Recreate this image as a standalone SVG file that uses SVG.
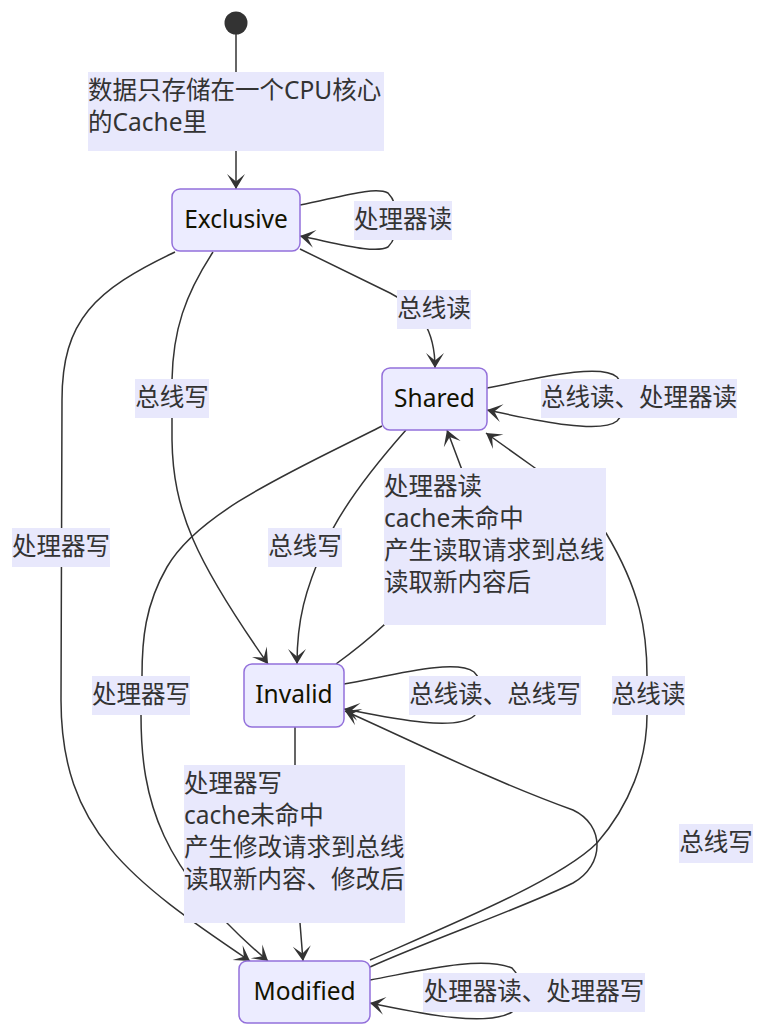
<svg xmlns="http://www.w3.org/2000/svg" width="765" height="1036" viewBox="0 0 765 1036">
<style>
  .node rect { fill: #ECECFF; stroke: #9370DB; stroke-width: 1.5; }
  .node text { font-family: "Noto Sans", "Noto Sans CJK SC", sans-serif; font-size: 24.5px; fill: #131300; text-anchor: middle; }
  .edge { fill: none; stroke: #333333; stroke-width: 1.5; }
  .lbl rect { fill: #E8E8FC; stroke: none; }
  .lbl text { font-family: "Noto Sans", "Noto Sans CJK SC", sans-serif; font-size: 24.5px; fill: #333333; }
  .c { text-anchor: middle; }
</style>
<defs>
  <marker id="barb" viewBox="0 0 20 14" refX="19" refY="7" markerWidth="30" markerHeight="21" markerUnits="userSpaceOnUse" orient="auto">
    <path d="M19,7 L9,13 L14,7 L9,1 Z" fill="#333333"/>
  </marker>
</defs>
<rect width="765" height="1036" fill="#ffffff"/>

<g id="connectors">
  <path class="edge" d="M236,34 V72"/>
  <path class="edge" d="M236,151 V189" marker-end="url(#barb)"/>
  <path class="edge" d="M300,205 C340,197 375,186 388,193 C400,205 400,235 388,247 C375,254 340,244 300,236" marker-end="url(#barb)"/>
  <path class="edge" d="M300,249 L390,293 C420,308 435,330 435,368" marker-end="url(#barb)"/>
  <path class="edge" d="M487,388 C530,380 600,362 617,377 C628,390 628,410 617,421 C600,435 530,419 487,410" marker-end="url(#barb)"/>
  <path class="edge" d="M213,252 C185,295 173,330 172,380 L172,440 C173,510 195,560 268,664" marker-end="url(#barb)"/>
  <path class="edge" d="M175,252 C95,290 62,320 62,400 L61,700 C61,830 130,880 250,961" marker-end="url(#barb)"/>
  <path class="edge" d="M406,430 C375,465 340,510 325,545 C305,590 297,620 297,664" marker-end="url(#barb)"/>
  <path class="edge" d="M382,426 C300,468 200,510 167,567 C145,605 142,640 142,676 L141,715 C141,800 160,870 268,961" marker-end="url(#barb)"/>
  <path class="edge" d="M336,664 C380,632 470,560 462,470 L447,430" marker-end="url(#barb)"/>
  <path class="edge" d="M344,684 C390,676 455,658 474,672 C486,684 486,705 474,716 C455,732 390,718 344,709" marker-end="url(#barb)"/>
  <path class="edge" d="M295,727 V765 L300,923 L303,961" marker-end="url(#barb)"/>
  <path class="edge" d="M370,960 C450,925 560,880 597,843 C630,805 647,760 647,715 L647,676 C647,630 640,590 606,533 L535,468 L486,433" marker-end="url(#barb)"/>
  <path class="edge" d="M370,967 C430,940 530,905 573,883 C605,865 605,825 573,810 C490,780 410,740 345,711" marker-end="url(#barb)"/>
  <path class="edge" d="M370,980 C415,972 480,955 512,968 C524,980 524,1000 512,1012 C485,1028 415,1012 370,1003" marker-end="url(#barb)"/>
</g>

<g id="start"><circle cx="236" cy="23" r="11.5" fill="#333333"/></g>

<g id="Exclusive" class="node"><rect x="172" y="189" width="128" height="62" rx="8"/><text x="236" y="227.5">Exclusive</text></g>
<g id="Shared" class="node"><rect x="382" y="368" width="105" height="62" rx="8"/><text x="434.5" y="406.5">Shared</text></g>
<g id="Invalid" class="node"><rect x="244" y="664" width="100" height="63" rx="8"/><text x="294" y="703">Invalid</text></g>
<g id="Modified" class="node"><rect x="239" y="961" width="131" height="62" rx="8"/><text x="304.5" y="999.5">Modified</text></g>

<g id="edge-labels">
  <g class="lbl"><rect x="88" y="72" width="296" height="79"/><text x="88" y="99">数据只存储在一个CPU核心</text><text x="88" y="131">的Cache里</text></g>
  <g class="lbl"><rect x="354" y="201" width="98" height="39"/><text class="c" x="403" y="228">处理器读</text></g>
  <g class="lbl"><rect x="397" y="290" width="74" height="39"/><text class="c" x="434" y="317">总线读</text></g>
  <g class="lbl"><rect x="541" y="379" width="196" height="39"/><text class="c" x="639" y="406">总线读、处理器读</text></g>
  <g class="lbl"><rect x="135" y="379" width="74" height="39"/><text class="c" x="172" y="406">总线写</text></g>
  <g class="lbl"><rect x="12" y="528" width="98" height="39"/><text class="c" x="61" y="555">处理器写</text></g>
  <g class="lbl"><rect x="268" y="528" width="74" height="39"/><text class="c" x="305" y="555">总线写</text></g>
  <g class="lbl"><rect x="384" y="468" width="222" height="157"/><text x="384" y="495">处理器读</text><text x="384" y="527">cache未命中</text><text x="384" y="559">产生读取请求到总线</text><text x="384" y="591">读取新内容后</text></g>
  <g class="lbl"><rect x="92" y="676" width="98" height="39"/><text class="c" x="141" y="703">处理器写</text></g>
  <g class="lbl"><rect x="409" y="676" width="172" height="39"/><text class="c" x="495" y="703">总线读、总线写</text></g>
  <g class="lbl"><rect x="612" y="676" width="73" height="39"/><text class="c" x="648.5" y="703">总线读</text></g>
  <g class="lbl"><rect x="184" y="765" width="221" height="158"/><text x="184" y="792">处理器写</text><text x="184" y="824">cache未命中</text><text x="184" y="856">产生修改请求到总线</text><text x="184" y="888">读取新内容、修改后</text></g>
  <g class="lbl"><rect x="679" y="824" width="74" height="39"/><text class="c" x="716" y="851">总线写</text></g>
  <g class="lbl"><rect x="423" y="973" width="222" height="39"/><text class="c" x="534" y="1000">处理器读、处理器写</text></g>
</g>
</svg>
